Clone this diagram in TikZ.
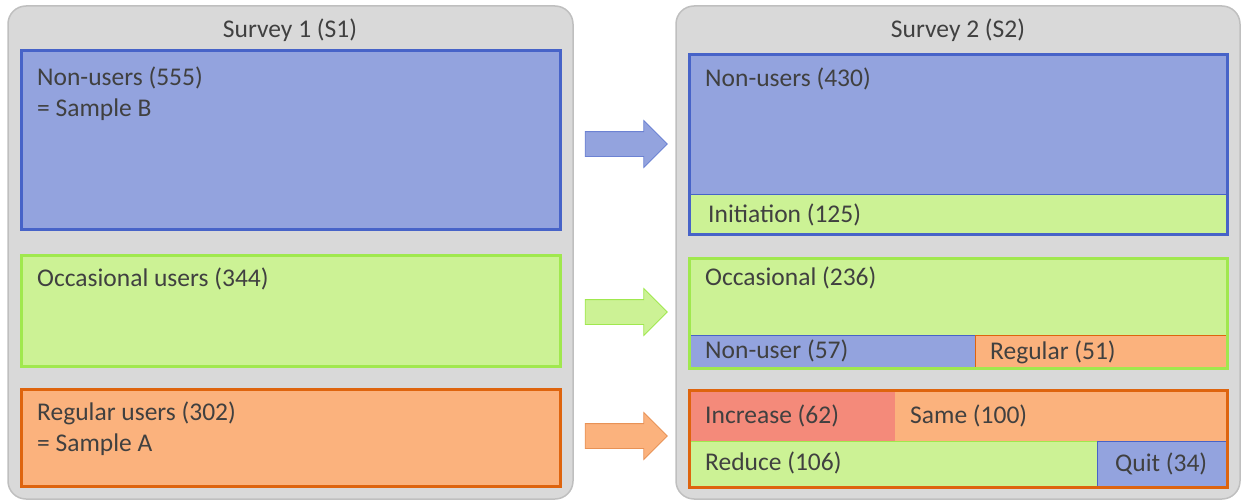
\documentclass[tikz,border=0pt]{standalone}
\usepackage{fontspec}
\setmainfont{Carlito}
\usetikzlibrary{shapes.arrows}

\definecolor{nonfill}{HTML}{93A3DE}
\definecolor{nonline}{HTML}{4763C8}
\definecolor{occfill}{HTML}{CCF295}
\definecolor{occline}{HTML}{A0E84E}
\definecolor{regfill}{HTML}{FBB27D}
\definecolor{regline}{HTML}{DE640E}
\definecolor{incfill}{HTML}{F48A7A}
\definecolor{incline}{HTML}{E8503A}
\definecolor{panelfill}{HTML}{D9D9D9}
\definecolor{panelline}{HTML}{BFBFBF}
\definecolor{txt}{HTML}{404040}

\begin{document}
\begin{tikzpicture}[x=1pt,y=-1pt,
    panel/.style={fill=panelfill,draw=panelline,line width=1.5pt,rounded corners=18pt},
    group/.style={line width=3pt},
    cell/.style={line width=0.8pt},
    lbl/.style={anchor=base west,inner sep=0pt,text=txt,align=left,
      font=\fontsize{25.5}{31}\selectfont},
    title/.style={anchor=base,inner sep=0pt,text=txt,font=\fontsize{25.5}{31}\selectfont},
    flow/.style={single arrow,single arrow head extend=11pt,minimum height=82pt,
      inner xsep=0pt,inner ysep=12pt,line width=0.8pt}]
  \useasboundingbox (0,0) rectangle (1243,503);

  % survey panels
  \draw[panel] (8,6) rectangle (573,499);
  \draw[panel] (676,6) rectangle (1240,499);
  \node[title] (s1) at (290,38) {Survey 1 (S1)};
  \node[title] (s2) at (958,38) {Survey 2 (S2)};

  % S1 groups
  \draw[group,fill=nonfill,draw=nonline] (21,51) rectangle (560,229);
  \draw[group,fill=occfill,draw=occline] (21,255) rectangle (560,366);
  \draw[group,fill=regfill,draw=regline] (21,389) rectangle (560,486);
  \node[lbl] (non1) at (37,116) {Non-users (555)\\= Sample B};
  \node[lbl] (occ1) at (37,286) {Occasional users (344)};
  \node[lbl] (reg1) at (37,451) {Regular users (302)\\= Sample A};

  % S2 non-users
  \fill[nonfill] (689,55) rectangle (1227,234);
  \draw[cell,fill=occfill,draw=nonline] (689,194) rectangle (1227,234);
  \draw[group,draw=nonline] (689,55) rectangle (1227,234);
  \node[lbl] (non2) at (705,87) {Non-users (430)};
  \node[lbl] (ini2) at (708,222) {Initiation (125)};

  % S2 occasional
  \fill[occfill] (689,258) rectangle (1227,368);
  \draw[cell,fill=nonfill,draw=nonline] (689,335) rectangle (975,368);
  \draw[cell,fill=regfill,draw=regline] (975,335) rectangle (1227,368);
  \draw[group,draw=occline] (689,258) rectangle (1227,368);
  \node[lbl] (occ2) at (705,285) {Occasional (236)};
  \node[lbl] (nu2) at (705,358) {Non-user (57)};
  \node[lbl] (rg2) at (990,359) {Regular (51)};

  % S2 regular
  \draw[cell,fill=incfill,draw=incline] (689,390) rectangle (895,441);
  \draw[cell,fill=regfill,draw=regfill] (895,390) rectangle (1227,441);
  \draw[cell,fill=occfill,draw=occline] (689,441) rectangle (1097,487);
  \draw[cell,fill=nonfill,draw=nonline] (1097,441) rectangle (1227,487);
  \draw[group,draw=regline] (689,390) rectangle (1227,487);
  \node[lbl] (inc2) at (705,423) {Increase (62)};
  \node[lbl] (same2) at (910,423) {Same (100)};
  \node[lbl] (red2) at (705,470) {Reduce (106)};
  \node[lbl] (quit2) at (1115,471) {Quit (34)};

  % transitions
  \node[flow,fill=nonfill,draw=nonline!80] (arrnon) at (620,144) {};
  \node[flow,fill=occfill,draw=occline] (arrocc) at (620,312) {};
  \node[flow,fill=regfill,draw=regline!70] (arrreg) at (620,436) {};
\end{tikzpicture}
\end{document}
